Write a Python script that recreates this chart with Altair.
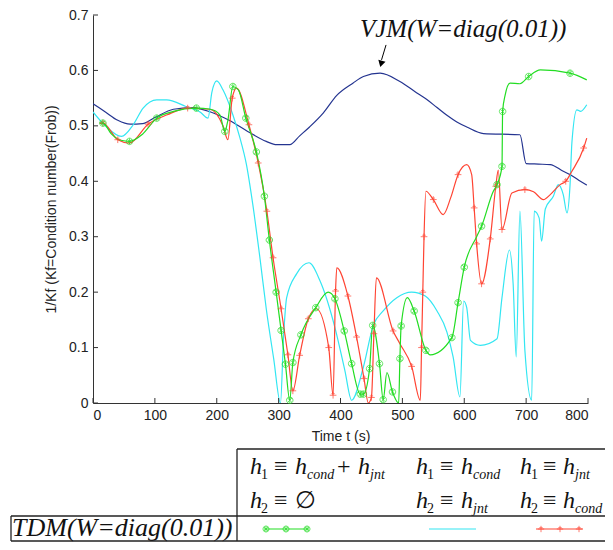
import altair as alt
import pandas as pd

# ---------------- data ----------------
vjm_t = [0,20,40,60,80,100,130,160,190,220,250,280,297,318,334,350,372,394,420,437,
         464,496,520,539,556,572,588,604,631,690,700,720,739,760,771,785,798]
vjm_y = [0.54,0.525,0.51,0.503,0.504,0.515,0.53,0.533,0.525,0.51,0.49,0.472,0.466,0.466,0.482,0.498,0.523,0.555,0.577,0.589,
         0.595,0.58,0.562,0.548,0.533,0.519,0.507,0.498,0.486,0.484,0.432,0.431,0.43,0.418,0.412,0.402,0.393]

green_t = [11,16,30,45,59,80,103,130,167,190,205,213,218,226,235,247,264,277,285,296,
           304,311,318,323,336,360,380,391,406,418,432,437,447,452,463,469,475,484,494,496,
           498,508,519,538,545,580,590,600,620,628,647,653,661,662,666,674,690,704,723,771,798]
green_y = [0.505,0.505,0.485,0.474,0.472,0.485,0.514,0.526,0.532,0.53,0.52,0.49,0.51,0.571,0.565,0.514,0.453,0.373,0.294,0.2,
           0.131,0.07,0.005,0.073,0.123,0.172,0.2,0.188,0.13,0.071,0.016,0.016,0.062,0.14,0.071,0.006,0.055,0.02,0.0,0.08,
           0.139,0.19,0.166,0.095,0.087,0.118,0.181,0.245,0.3,0.319,0.382,0.394,0.427,0.526,0.555,0.577,0.576,0.589,0.601,0.595,0.583]
green_mt = [16,59,103,167,213,226,247,264,277,285,296,304,311,318,323,336,360,391,406,418,
            432,437,447,452,463,469,484,496,498,519,538,580,590,600,628,653,661,662,704,771]
green_my = [0.505,0.472,0.514,0.532,0.49,0.571,0.514,0.453,0.373,0.294,0.2,0.131,0.07,0.005,0.073,0.123,0.172,0.188,0.13,0.071,
            0.016,0.016,0.062,0.14,0.071,0.006,0.02,0.08,0.139,0.166,0.095,0.118,0.181,0.245,0.319,0.394,0.427,0.526,0.589,0.595]

cyan_t = [0,20,46,65,81,103,119,150,173,186,192,200,210,226,237,248,258,270,280,292,
          303,308,313,329,349,367,391,407,418,437,453,469,491,515,537,556,572,582,593,599,
          604,610,626,653,661,673,679,684,690,698,709,713,721,725,731,744,752,760,766,771,
          774,782,788,798]
cyan_y = [0.525,0.5,0.481,0.502,0.532,0.547,0.547,0.535,0.525,0.514,0.56,0.581,0.565,0.52,0.48,0.43,0.36,0.26,0.17,0.08,
          0.0,0.12,0.19,0.233,0.253,0.22,0.136,0.059,0.005,0.065,0.14,0.166,0.19,0.2,0.193,0.166,0.128,0.083,0.011,0.184,
          0.172,0.113,0.104,0.116,0.19,0.276,0.215,0.083,0.346,0.095,0.005,0.346,0.334,0.292,0.35,0.373,0.394,0.376,0.343,0.394,
          0.47,0.529,0.526,0.538]

red_t = [11,16,40,59,89,120,153,189,210,218,225,232,252,267,281,291,304,315,323,334,
         348,361,381,388,392,394,412,426,438,445,450,454,458,485,496,515,529,531,533,535,
         538,550,566,578,590,604,612,616,620,628,642,651,655,661,677,698,712,728,739,755,
         764,774,793,798]
red_y = [0.505,0.505,0.475,0.469,0.503,0.52,0.532,0.53,0.5,0.475,0.55,0.568,0.502,0.433,0.346,0.262,0.17,0.087,0.022,0.086,
         0.152,0.17,0.1,0.014,0.202,0.244,0.193,0.119,0.044,0.0,0.01,0.125,0.226,0.13,0.107,0.066,0.005,0.1,0.2,0.3,
         0.382,0.367,0.34,0.37,0.412,0.43,0.412,0.352,0.287,0.215,0.296,0.391,0.42,0.313,0.379,0.385,0.381,0.367,0.376,0.394,
         0.4,0.418,0.46,0.478]
red_mt = [16,40,89,153,225,252,267,281,291,304,315,323,334,348,381,388,392,412,426,438,
          450,454,485,515,531,533,535,550,590,616,620,628,642,651,661,698,764,793]
red_my = [0.505,0.475,0.503,0.532,0.55,0.502,0.433,0.346,0.262,0.17,0.087,0.022,0.086,0.152,0.1,0.014,0.202,0.193,0.119,0.044,
          0.01,0.125,0.13,0.066,0.1,0.2,0.3,0.367,0.412,0.352,0.287,0.215,0.296,0.391,0.313,0.385,0.4,0.46]

x_ticks = [0, 100, 200, 300, 400, 500, 600, 700, 800]
y_ticks = [0, 0.1, 0.2, 0.3, 0.4, 0.5, 0.6, 0.7]

vjm_label = "VJM(W=diag(0.01))"
tdm_label = "TDM(W=diag(0.01))"
arrow_from = (473.6, 0.646)
arrow_to = (466.3, 0.619)
arrow_head = (465.6, 0.612)

# ---------------- styling ----------------
NAVY = "#243490"
GREEN = "#22dd22"
CYAN = "#33e6f2"
RED = "#ff4433"
PAD_L, PAD_T = 85, 7
W, H = 495, 388
X0, Y0 = 8 + PAD_L, 8 + PAD_T      # plot origin on the page (for annotation layout)
RIGHT_EDGE = 605
SERIF = "Liberation Serif"
SANS = "Liberation Sans"

xscale = alt.Scale(domain=[0, 800], nice=False, zero=False)
yscale = alt.Scale(domain=[0, 0.7], nice=False)
xaxis = alt.Axis(values=x_ticks, tickSize=0, domainColor="#333", labelFont=SANS, labelFontSize=14,
                 labelColor="#222", labelPadding=5, grid=False, title="Time t (s)", titleFont=SANS,
                 titleFontSize=14, titleFontWeight="normal", titleColor="#222", titlePadding=7, format="d")
yaxis = alt.Axis(values=y_ticks, tickSize=0, domainColor="#333", labelFont=SANS, labelFontSize=14,
                 labelColor="#222", labelPadding=5, grid=False, title="1/Kf (Kf=Condition number(Frob))",
                 titleFont=SANS, titleFontSize=14, titleFontWeight="normal", titleColor="#222",
                 titlePadding=10, format="~g")
X = alt.X("t:Q", scale=xscale, axis=xaxis)
Y = alt.Y("y:Q", scale=yscale, axis=yaxis)


def df(t, y):
    return pd.DataFrame({"t": t, "y": y})


def line(t, y, color):
    return alt.Chart(df(t, y)).mark_line(color=color, strokeWidth=1.2, interpolate="monotone",
                                          clip=True).encode(x=X, y=Y)


marker_star = ("M-1,0A1,1 0 1,1 1,0A1,1 0 1,1 -1,0Z M-0.72,-0.72L0.72,0.72 "
               "M-0.72,0.72L0.72,-0.72 M0,-1L0,1")
marker_plus = "M-1,0L1,0M0,-1L0,1M-0.5,-0.45L0.5,-0.45"

layers = [
    line(vjm_t, vjm_y, NAVY),
    line(cyan_t, cyan_y, CYAN),
    line(red_t, red_y, RED),
    line(green_t, green_y, GREEN),
    alt.Chart(df(red_mt, red_my)).mark_point(shape=marker_plus, size=45, filled=False,
                                              stroke=RED, strokeWidth=1).encode(x=X, y=Y),
    alt.Chart(df(green_mt, green_my)).mark_point(shape=marker_star, size=42, filled=False,
                                                  stroke=GREEN, strokeWidth=1).encode(x=X, y=Y),
    # inward ticks
    alt.Chart(pd.DataFrame({"t": x_ticks})).mark_rule(color="#333").encode(
        x=X, y=alt.value(H), y2=alt.value(H - 5)),
    alt.Chart(pd.DataFrame({"y": y_ticks})).mark_rule(color="#333").encode(
        y=Y, x=alt.value(0), x2=alt.value(5)),
    # arrow for VJM
    alt.Chart(pd.DataFrame({"t": [arrow_from[0]], "y": [arrow_from[1]],
                            "t2": [arrow_to[0]], "y2": [arrow_to[1]]})).mark_rule(
        color="black", strokeWidth=1).encode(x=X, y=Y, x2="t2:Q", y2="y2:Q"),
    alt.Chart(df([arrow_head[0]], [arrow_head[1]])).mark_point(
        shape="triangle-down", size=55, filled=True, color="black", opacity=1, angle=15).encode(x=X, y=Y),
]

# ---------------- annotation layout (page px) ----------------
def P(x, y):
    return x - X0, y - Y0

TOP, SEP, BOT, LEFT, VL = 449, 516, 541, 11, 237
pieces = []   # (text, page x, page baseline y, size, italic)
R1, R2 = 474, 508
S1, S2 = R1 + 5, R2 + 5
M, S = 24, 14
for (y, ys, sub, cols) in [
    (R1, S1, "1", [(250, [("h", 0, True, M), ("≡", 24, False, M), ("h", 45, True, M), ("cond", 57, True, S),
                          ("+", 87, False, M), ("h", 108, True, M), ("jnt", 120, True, S)]),
                   (416, [("h", 0, True, M), ("≡", 24, False, M), ("h", 45, True, M), ("cond", 57, True, S)]),
                   (520, [("h", 0, True, M), ("≡", 23, False, M), ("h", 43, True, M), ("jnt", 55, True, S)])]),
    (R2, S2, "2", [(250, [("h", 0, True, M), ("≡", 24, False, M), ("∅", 45, False, M)]),
                   (416, [("h", 0, True, M), ("≡", 24, False, M), ("h", 45, True, M), ("jnt", 57, True, S)]),
                   (520, [("h", 0, True, M), ("≡", 23, False, M), ("h", 43, True, M), ("cond", 55, True, S)])]),
]:
    for (cx, items) in cols:
        pieces.append((sub, cx + 11, ys, S, False))
        for (txt, dx, it, sz) in items:
            pieces.append((txt, cx + dx, ys if sz == S else y, sz, it))

pieces.append((tdm_label, 12, 536, 26, True))
pieces.append((vjm_label, 360, 37, 25, True))

rows = []
for (txt, x, y, sz, it) in pieces:
    px, py = P(x, y)
    rows.append({"px": px, "py": py, "txt": txt, "sz": sz, "it": it})
tdf = pd.DataFrame(rows)

for italic in (True, False):
    sub = tdf[tdf["it"] == italic]
    layers.append(alt.Chart(sub).mark_text(align="left", baseline="alphabetic", font=SERIF,
                                           fontStyle="italic" if italic else "normal",
                                           color="#111").encode(
        x=alt.X("px:Q", scale=None), y=alt.Y("py:Q", scale=None),
        text="txt:N", size=alt.Size("sz:Q", scale=None, legend=None)))

# table lines (page px)
segs = [((VL, TOP), (RIGHT_EDGE, TOP)), ((VL, TOP), (VL, BOT)), ((LEFT, SEP), (RIGHT_EDGE, SEP)),
        ((LEFT, BOT), (RIGHT_EDGE, BOT)), ((LEFT, SEP), (LEFT, BOT))]
lines_df = pd.DataFrame([{"x": P(*a)[0], "y": P(*a)[1], "x2": P(*b)[0], "y2": P(*b)[1]} for a, b in segs])
layers.append(alt.Chart(lines_df).mark_rule(color="#222", strokeWidth=1.3).encode(
    x=alt.X("x:Q", scale=None), y=alt.Y("y:Q", scale=None), x2="x2:Q", y2="y2:Q"))

# legend samples in the table
LY = 529
samples = pd.DataFrame([
    {"x": P(264, LY)[0], "y": P(264, LY)[1], "x2": P(309, LY)[0], "c": GREEN},
    {"x": P(429, LY)[0], "y": P(429, LY)[1], "x2": P(476, LY)[0], "c": CYAN},
    {"x": P(536, LY)[0], "y": P(536, LY)[1], "x2": P(583, LY)[0], "c": RED},
])
layers.append(alt.Chart(samples).mark_rule(strokeWidth=1.2).encode(
    x=alt.X("x:Q", scale=None), y=alt.Y("y:Q", scale=None), x2="x2:Q",
    color=alt.Color("c:N", scale=None)))
gm = pd.DataFrame({"x": [P(v, LY)[0] for v in (266, 286, 307)], "y": [P(0, LY)[1]] * 3})
rm = pd.DataFrame({"x": [P(v, LY)[0] for v in (541, 560, 579)], "y": [P(0, LY)[1]] * 3})
layers.append(alt.Chart(gm).mark_point(shape=marker_star, size=36, filled=False, stroke=GREEN,
                                       strokeWidth=1).encode(x=alt.X("x:Q", scale=None), y=alt.Y("y:Q", scale=None)))
layers.append(alt.Chart(rm).mark_point(shape=marker_plus, size=40, filled=False, stroke=RED,
                                       strokeWidth=1).encode(x=alt.X("x:Q", scale=None), y=alt.Y("y:Q", scale=None)))

chart = alt.layer(*layers).properties(
    width=W, height=H,
    padding={"left": PAD_L, "top": PAD_T, "right": 17, "bottom": 534 - PAD_T - H},
    autosize=alt.AutoSizeParams(type="none"),
    background="white",
).configure_view(stroke=None)

chart.save("out.html", embed_options={"renderer": "svg", "actions": False})
